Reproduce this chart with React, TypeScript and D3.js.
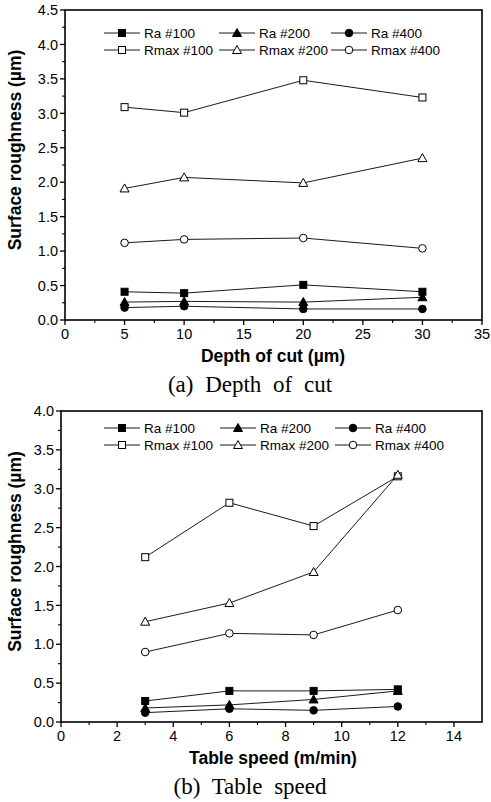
import React from 'react';
import * as d3 from 'd3';

// (a) depth of cut
const depthOfCut = [5, 10, 20, 30];
const depthRa100 = [0.41, 0.39, 0.51, 0.41];
const depthRa200 = [0.26, 0.27, 0.26, 0.33];
const depthRa400 = [0.18, 0.2, 0.16, 0.16];
const depthRmax100 = [3.09, 3.01, 3.48, 3.23];
const depthRmax200 = [1.91, 2.07, 1.99, 2.35];
const depthRmax400 = [1.12, 1.17, 1.19, 1.04];

// (b) table speed
const tableSpeed = [3, 6, 9, 12];
const speedRa100 = [0.27, 0.4, 0.4, 0.42];
const speedRa200 = [0.18, 0.22, 0.29, 0.4];
const speedRa400 = [0.12, 0.17, 0.15, 0.2];
const speedRmax100 = [2.12, 2.82, 2.52, 3.16];
const speedRmax200 = [1.29, 1.53, 1.93, 3.18];
const speedRmax400 = [0.9, 1.14, 1.12, 1.44];

const seriesNames = ['Ra #100', 'Ra #200', 'Ra #400', 'Rmax #100', 'Rmax #200', 'Rmax #400'];
const seriesShapes = ['square', 'triangle', 'circle', 'square', 'triangle', 'circle'];
const seriesFilled = [true, true, true, false, false, false];

const sans = 'Arial, "Liberation Sans", Helvetica, sans-serif';
const serif = '"Times New Roman", "Liberation Serif", serif';

const Marker = ({ shape, filled, x, y }) => {
  const fill = filled ? '#000' : '#fff';
  if (shape === 'square') {
    return <rect x={x - 3.5} y={y - 3.5} width={7} height={7} fill={fill} stroke="#000" strokeWidth={1} />;
  }
  if (shape === 'triangle') {
    return <path d={`M${x},${y - 4.5}L${x + 4.5},${y + 3.5}L${x - 4.5},${y + 3.5}Z`} fill={fill} stroke="#000" strokeWidth={1} />;
  }
  return <circle cx={x} cy={y} r={3.8} fill={fill} stroke="#000" strokeWidth={1} />;
};

const Panel = ({ top, bottom, left, right, xMax, xStep, yMax, xs, series, xTitle, caption, legendX, legendY }) => {
  const x = d3.scaleLinear().domain([0, xMax]).range([left, right]);
  const y = d3.scaleLinear().domain([0, yMax]).range([bottom, top]);
  const line = d3.line<number>().x((_, i) => x(xs[i])).y((v) => y(v));

  const xMajor = d3.range(0, xMax + 0.001, xStep);
  const xMinor = d3.range(xStep / 2, xMax, xStep);
  const yMajor = d3.range(0, yMax + 0.001, 0.5);
  const yMinor = d3.range(0.25, yMax, 0.5);

  return (
    <g>
      {series.map((vals, s) => (
        <g key={s}>
          <path d={line(vals)} fill="none" stroke="#000" strokeWidth={0.9} />
          {vals.map((v, i) => (
            <Marker key={i} shape={seriesShapes[s]} filled={seriesFilled[s]} x={x(xs[i])} y={y(v)} />
          ))}
        </g>
      ))}

      {/* frame */}
      <rect x={left} y={top} width={right - left} height={bottom - top} fill="none" stroke="#000" strokeWidth={1.6} />

      {/* y ticks */}
      {yMajor.map((t) => (
        <g key={'ym' + t}>
          <line x1={left - 5} x2={left} y1={y(t)} y2={y(t)} stroke="#000" strokeWidth={1.3} />
          <text x={left - 7} y={y(t)} dy="0.36em" textAnchor="end" fontSize={14.5} fontFamily={sans}>
            {t.toFixed(1)}
          </text>
        </g>
      ))}
      {yMinor.map((t) => (
        <line key={'yn' + t} x1={left - 3} x2={left} y1={y(t)} y2={y(t)} stroke="#000" strokeWidth={1.1} />
      ))}

      {/* x ticks */}
      {xMajor.map((t) => (
        <g key={'xm' + t}>
          <line x1={x(t)} x2={x(t)} y1={bottom} y2={bottom + 5} stroke="#000" strokeWidth={1.3} />
          <text x={x(t)} y={bottom + 19} textAnchor="middle" fontSize={14.5} fontFamily={sans}>
            {t}
          </text>
        </g>
      ))}
      {xMinor.map((t) => (
        <line key={'xn' + t} x1={x(t)} x2={x(t)} y1={bottom} y2={bottom + 3} stroke="#000" strokeWidth={1.1} />
      ))}

      {/* axis titles */}
      <text
        transform={`translate(21,${(top + bottom) / 2 - 15}) rotate(-90)`}
        textAnchor="middle"
        fontSize={17.5}
        fontWeight="bold"
        fontFamily={sans}
      >
        Surface roughness (µm)
      </text>
      <text x={273} y={bottom + 42} textAnchor="middle" fontSize={17.5} fontWeight="bold" fontFamily={sans}>
        {xTitle}
      </text>
      <text x={250} y={bottom + 72} textAnchor="middle" fontSize={23} fontFamily={serif} style={{ wordSpacing: '6px' }}>
        {caption}
      </text>

      {/* legend */}
      {seriesNames.map((name, s) => {
        const col = s % 3;
        const row = Math.floor(s / 3);
        const lx = legendX[col];
        const ly = legendY + row * 17;
        return (
          <g key={name}>
            <line x1={lx - 18} x2={lx + 18} y1={ly} y2={ly} stroke="#000" strokeWidth={0.9} />
            <Marker shape={seriesShapes[s]} filled={seriesFilled[s]} x={lx} y={ly} />
            <text x={lx + 22} y={ly} dy="0.36em" fontSize={13.5} fontFamily={sans}>
              {name}
            </text>
          </g>
        );
      })}
    </g>
  );
};

export default function App() {
  return (
    <svg width={491} height={802} style={{ position: 'absolute', left: 0, top: 0, background: '#fff' }}>
      <Panel
        top={10}
        bottom={320}
        left={65}
        right={482}
        xMax={35}
        xStep={5}
        yMax={4.5}
        xs={depthOfCut}
        series={[depthRa100, depthRa200, depthRa400, depthRmax100, depthRmax200, depthRmax400]}
        xTitle="Depth of cut (µm)"
        caption="(a) Depth of cut"
        legendX={[122, 237, 349]}
        legendY={33}
      />
      <Panel
        top={411}
        bottom={722}
        left={61}
        right={482}
        xMax={15}
        xStep={2}
        yMax={4.0}
        xs={tableSpeed}
        series={[speedRa100, speedRa200, speedRa400, speedRmax100, speedRmax200, speedRmax400]}
        xTitle="Table speed (m/min)"
        caption="(b) Table speed"
        legendX={[122, 238, 353]}
        legendY={428}
      />
    </svg>
  );
}
